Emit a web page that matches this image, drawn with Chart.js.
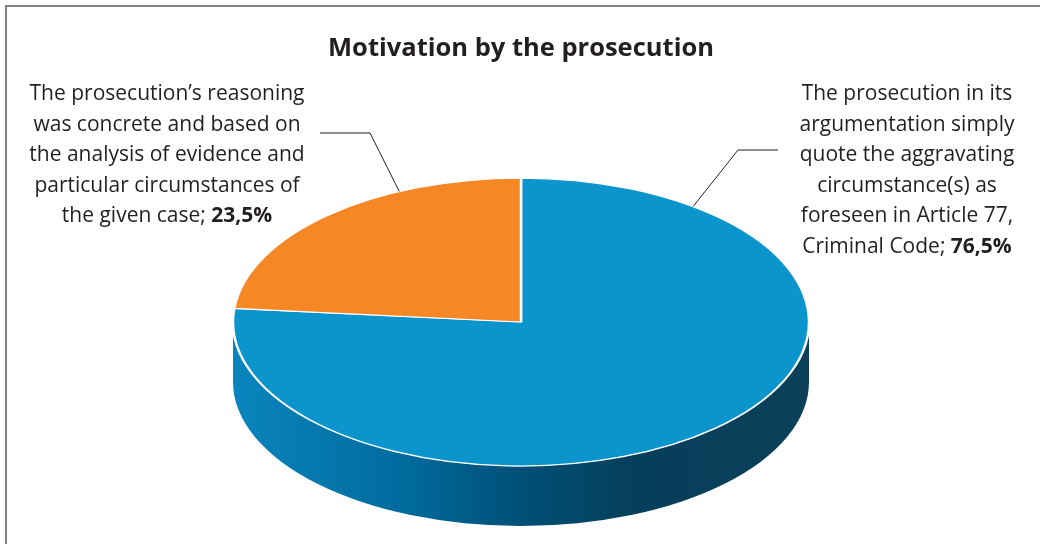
<!DOCTYPE html>
<html>
<head>
<meta charset="utf-8">
<script src="https://cdn.jsdelivr.net/npm/chart.js@4.4.1/dist/chart.umd.min.js"></script>
<style>
  html, body { margin: 0; padding: 0; background: #fff; }
  #wrap { position: relative; width: 1040px; height: 544px; overflow: hidden; }
  /* grey frame: only top and left edges fall inside the page */
  #frame { position: absolute; left: 5px; top: 5px; width: 1100px; height: 600px;
           border-top: 2px solid #828282; border-left: 2px solid #828282; }
  #chart { position: absolute; left: 0; top: 0; }
</style>
</head>
<body>
<div id="wrap">
  <div id="frame"></div>
  <canvas id="chart" width="1040" height="544"></canvas>
</div>
<script>
// ---------- data ----------
const categories = [
  "The prosecution in its argumentation simply quote the aggravating circumstance(s) as foreseen in Article 77, Criminal Code",
  "The prosecution's reasoning was concrete and based on the analysis of evidence and particular circumstances of the given case"
];
const shares = [76.5, 23.5];

// label text broken into lines; the percentage is appended in bold to the last line
const labelLines = [
  ["The prosecution in its", "argumentation simply", "quote the aggravating", "circumstance(s) as", "foreseen in Article 77,", "Criminal Code; "],
  ["The prosecution\u2019s reasoning", "was concrete and based on", "the analysis of evidence and", "particular circumstances of", "the given case; "]
];

// ---------- look ----------
const TOP_COLORS = ["#0c94cc", "#f58724"];
const WALL_STOPS = [
  [[0, "#0a85bd"], [0.3, "#006b9d"], [0.5, "#004f76"], [0.7, "#063f5b"], [1, "#0b4058"]],
  [[0, "#c0651a"], [1, "#8a4410"]]
];
const TILT = 0.5;      // vertical squash of the disc
const DEPTH = 60;      // wall height in px
const FONT = "'Open Sans', 'Noto Sans', sans-serif";
const TEXT_COLOR = "#231f20";

// label placement: block centre x, first baseline, line pitch, and the leader line
// (anchor given as an angle on the rim, in degrees clockwise from 12 o'clock)
const labelLayout = [
  { cx: 907, y0: 100, pitch: 30.6, anchorDeg: 36.7, elbow: [738, 150], end: [778, 150] },
  { cx: 167, y0: 100, pitch: 30.6, anchorDeg: -25, elbow: [370, 133], end: [320, 133] }
];

const fmtPct = (v) => v.toFixed(1).replace(".", ",") + "%";

// draws the side wall under the front half of the disc, then squashes the pie itself
const pie3d = {
  id: "pie3d",
  beforeDatasetsDraw(chart) {
    const ctx = chart.ctx;
    const arcs = chart.getDatasetMeta(0).data;
    const { x: cx, y: cy, outerRadius: r } = arcs[0];
    const ry = r * TILT;
    const TWO_PI = Math.PI * 2;

    arcs.forEach((arc, i) => {
      const grad = ctx.createLinearGradient(cx - r, 0, cx + r, 0);
      WALL_STOPS[i].forEach(([o, c]) => grad.addColorStop(o, c));
      [-TWO_PI, 0, TWO_PI].forEach((shift) => {
        const s = Math.max(arc.startAngle + shift, 0);
        const e = Math.min(arc.endAngle + shift, Math.PI);
        if (e <= s) return;
        ctx.beginPath();
        ctx.ellipse(cx, cy, r, ry, 0, s, e);
        ctx.ellipse(cx, cy + DEPTH, r, ry, 0, e, s, true);
        ctx.closePath();
        ctx.fillStyle = grad;
        ctx.fill();
      });
    });

    ctx.save();
    ctx.translate(cx, cy);
    ctx.scale(1, TILT);
    ctx.translate(-cx, -cy);
  },
  afterDatasetsDraw(chart) {
    chart.ctx.restore();
  }
};

// slice labels with leader lines
const sliceLabels = {
  id: "sliceLabels",
  afterDraw(chart) {
    const ctx = chart.ctx;
    const arc0 = chart.getDatasetMeta(0).data[0];
    const { x: cx, y: cy, outerRadius: r } = arc0;

    ctx.save();
    labelLayout.forEach((L, i) => {
      // leader line
      const a = (L.anchorDeg - 90) * Math.PI / 180;
      const ax = cx + r * Math.cos(a);
      const ay = cy + r * TILT * Math.sin(a);
      ctx.beginPath();
      ctx.moveTo(ax, ay);
      ctx.lineTo(L.elbow[0], L.elbow[1]);
      ctx.lineTo(L.end[0], L.end[1]);
      ctx.strokeStyle = TEXT_COLOR;
      ctx.lineWidth = 1;
      ctx.stroke();

      // text
      ctx.fillStyle = TEXT_COLOR;
      ctx.textBaseline = "alphabetic";
      const lines = labelLines[i];
      lines.forEach((txt, k) => {
        const y = L.y0 + k * L.pitch;
        ctx.font = "21px " + FONT;
        if (k < lines.length - 1) {
          ctx.textAlign = "center";
          ctx.fillText(txt, L.cx, y);
        } else {
          const pct = fmtPct(shares[i]);
          const w1 = ctx.measureText(txt).width;
          ctx.font = "bold 21px " + FONT;
          const w2 = ctx.measureText(pct).width;
          const x0 = L.cx - (w1 + w2) / 2;
          ctx.textAlign = "left";
          ctx.font = "21px " + FONT;
          ctx.fillText(txt, x0, y);
          ctx.font = "bold 21px " + FONT;
          ctx.fillText(pct, x0 + w1, y);
        }
      });
    });
    ctx.restore();
  }
};

new Chart(document.getElementById("chart"), {
  type: "pie",
  data: {
    labels: categories,
    datasets: [{
      data: shares,
      backgroundColor: TOP_COLORS,
      borderColor: "#ffffff",
      borderWidth: 2.5,
      radius: 288
    }]
  },
  options: {
    responsive: false,
    animation: false,
    events: [],
    layout: { padding: { left: 2, right: 0, top: 0, bottom: 0 } },
    plugins: {
      legend: { display: false },
      tooltip: { enabled: false },
      title: {
        display: true,
        text: "Motivation by the prosecution",
        color: TEXT_COLOR,
        font: { family: FONT, size: 25.5, weight: "bold", lineHeight: 1.2 },
        padding: { top: 33, bottom: 36.4 }
      }
    }
  },
  plugins: [pie3d, sliceLabels]
});
</script>
</body>
</html>
